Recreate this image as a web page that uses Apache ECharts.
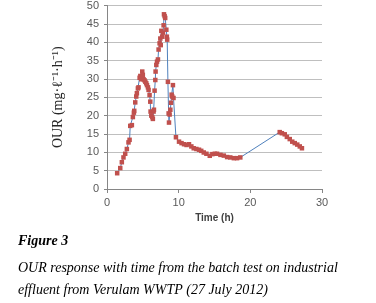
<!DOCTYPE html>
<html>
<head>
<meta charset="utf-8">
<script src="https://cdn.jsdelivr.net/npm/echarts@6/dist/echarts.min.js"></script>
<style>
html,body{margin:0;padding:0;background:#fff;}
#chart{width:376px;height:303px;}
</style>
</head>
<body>
<div id="chart"></div>
<script>
// Time (h)
var timeH = [1.42,1.85,2.07,2.30,2.54,2.77,3.00,3.15,3.24,3.47,3.61,3.75,3.80,3.94,4.08,4.17,4.31,4.40,4.55,4.65,
  4.78,4.92,5.00,5.10,5.24,5.35,5.48,5.58,5.71,5.80,5.94,6.04,6.08,6.18,6.32,6.40,6.50,6.55,6.64,6.74,
  6.78,6.88,6.98,7.11,7.20,7.34,7.44,7.50,7.58,7.70,7.81,7.90,7.95,8.04,8.12,8.28,8.35,8.40,8.50,8.60,
  8.65,8.74,8.84,8.93,9.02,9.10,9.20,9.28,9.62,10.05,10.40,10.75,11.10,11.44,11.77,12.10,12.47,12.84,13.15,13.50,
  13.87,14.34,14.70,15.05,15.36,15.83,16.30,16.76,17.20,17.70,18.15,18.60,24.10,24.40,24.80,25.10,25.50,25.85,26.20,26.55,
  26.90,27.20];
// OUR (mg/l/h)
var ourRate = [4.3,5.7,7.3,8.6,9.6,10.9,12.7,13.4,17.2,17.4,19.6,20.8,21.3,23.6,25.2,26.1,27.4,27.7,30.3,30.8,
  29.9,32.0,31.1,29.9,29.6,29.2,28.8,28.3,27.7,27.0,25.6,23.8,21.1,20.0,19.6,19.1,21.1,21.6,26.8,29.7,
  32.0,33.8,34.7,35.3,38.0,39.7,41.0,39.2,43.1,41.5,42.6,44.6,47.6,47.1,46.6,43.4,41.5,40.7,29.2,20.6,
  18.1,20.3,21.6,23.5,25.7,25.2,28.3,24.8,14.1,12.9,12.5,12.2,12.0,12.2,11.6,11.1,10.9,10.7,10.4,9.95,
  9.6,9.05,9.5,9.6,9.6,9.3,9.1,8.7,8.6,8.4,8.4,8.6,15.5,15.2,14.9,14.2,13.6,12.9,12.5,12.1,
  11.6,11.1];
var xTicks = [0,10,20,30];
var yTicks = [0,5,10,15,20,25,30,35,40,45,50];
var yTitle = 'OUR (mg\u00b7\u2113\u207b\u00b9\u00b7h\u207b\u00b9)';
var xTitle = 'Time (h)';
var figLabel = 'Figure 3';
var captionLines = ['OUR response with time from the batch test on industrial',
  'effluent from Verulam WWTP (27 July 2012)'];

var points = timeH.map(function(t,i){return [t, ourRate[i]];});
var chart = echarts.init(document.getElementById('chart'), null, {renderer:'canvas'});
var axisFont = {color:'#595959', fontSize:11, fontFamily:'Liberation Sans'};
chart.setOption({
  animation:false,
  backgroundColor:'#fff',
  grid:{left:107, right:54, top:5, bottom:114, containLabel:false},
  xAxis:{
    type:'value', min:xTicks[0], max:xTicks[xTicks.length-1], interval:10,
    name:xTitle, nameLocation:'middle', nameGap:22,
    nameTextStyle:{fontWeight:'bold', fontSize:10, color:'#404040', fontFamily:'Liberation Sans'},
    axisLine:{show:true, onZero:false, lineStyle:{color:'#868686', width:1}},
    axisTick:{show:true, length:4, lineStyle:{color:'#868686'}},
    axisLabel:Object.assign({margin:8}, axisFont),
    splitLine:{show:false}
  },
  yAxis:{
    type:'value', min:yTicks[0], max:yTicks[yTicks.length-1], interval:5,
    name:yTitle, nameLocation:'middle', nameGap:42, nameRotate:90,
    nameTextStyle:{fontSize:14, color:'#262626', fontFamily:'Liberation Serif'},
    axisLine:{show:true, lineStyle:{color:'#868686', width:1}},
    axisTick:{show:true, length:3, lineStyle:{color:'#868686'}},
    axisLabel:Object.assign({margin:8}, axisFont),
    splitLine:{show:true, lineStyle:{color:'#bfbfbf', width:1}}
  },
  series:[{
    type:'line', data:points,
    symbol:'rect', symbolSize:4.5, showAllSymbol:true,
    lineStyle:{color:'#4f81bd', width:1},
    itemStyle:{color:'#c0504d'}
  }],
  graphic:[
    {type:'text', left:18, top:234, style:{text:figLabel, font:'italic bold 14px "Liberation Serif"', fill:'#000'}},
    {type:'text', left:18, top:261, style:{text:captionLines[0], font:'italic 14px "Liberation Serif"', fill:'#000'}},
    {type:'text', left:18, top:283, style:{text:captionLines[1], font:'italic 14px "Liberation Serif"', fill:'#000'}}
  ]
});
</script>
</body>
</html>
